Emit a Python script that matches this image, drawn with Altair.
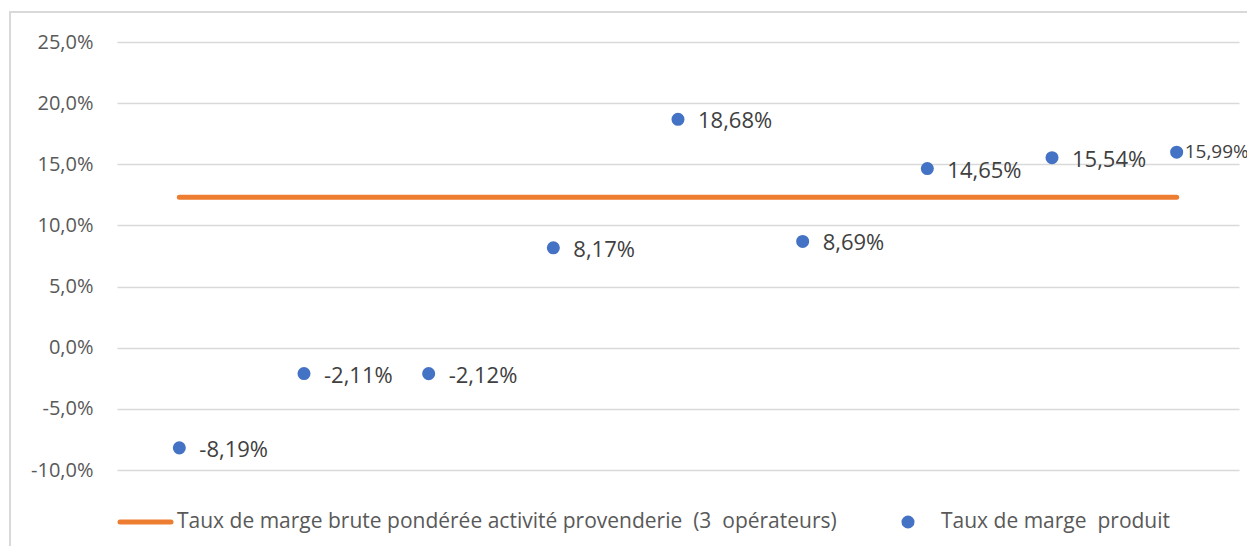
import altair as alt
import pandas as pd

# ---- data ----
produits = ["P1", "P2", "P3", "P4", "P5", "P6", "P7", "P8", "P9"]
taux_produit = [-8.19, -2.11, -2.12, 8.17, 18.68, 8.69, 14.65, 15.54, 15.99]
taux_pondere = 12.3
y_ticks = [-10, -5, 0, 5, 10, 15, 20, 25]
legend_line_label = "Taux de marge brute pondérée activité provenderie \u00a0(3 \u00a0opérateurs)"
legend_point_label = "Taux de marge \u00a0produit"

FONT = "Open Sans"
ORANGE = "#ED7D31"
BLUE = "#4472C4"
GRID = "#d9d9d9"
TXT = "#595959"

df = pd.DataFrame({"produit": produits, "taux": taux_produit})
df_line = pd.DataFrame({"debut": [produits[0]], "fin": [produits[-1]], "taux": [taux_pondere]})
one = alt.Data(values=[{"k": 1}])

xscale = alt.Scale(type="point", padding=0.5, domain=produits)
yscale = alt.Scale(domain=[-10, 25], nice=False, zero=False)

label_expr = "replace(replace(format(datum.value, '.1f'), '.', ','), '\u2212', '-') + '%'"

yaxis = alt.Axis(
    values=y_ticks, labelExpr=label_expr, grid=True, gridColor=GRID, gridWidth=1.5,
    domain=False, ticks=False, labelPadding=24, labelFontSize=20, labelColor=TXT,
    labelFont=FONT, title=None,
)

border = alt.Chart(one).mark_rect(filled=False, stroke=GRID, strokeWidth=2).encode(
    x=alt.value(-107), x2=alt.value(1300), y=alt.value(-30), y2=alt.value(600)
)

line = alt.Chart(df_line).mark_rule(color=ORANGE, strokeWidth=5, strokeCap="round").encode(
    x=alt.X("debut:N", scale=xscale, axis=None),
    x2="fin:N",
    y=alt.Y("taux:Q", scale=yscale, axis=yaxis),
)

points = alt.Chart(df).mark_circle(size=170, color=BLUE, opacity=1).encode(
    x=alt.X("produit:N", scale=xscale, axis=None),
    y=alt.Y("taux:Q", scale=yscale, axis=yaxis),
)

lab_expr = "replace(replace(format(datum.taux, '.2f'), '.', ','), '\u2212', '-') + '%'"
labels_main = alt.Chart(df).transform_filter(
    alt.datum.produit != produits[-1]
).transform_calculate(lab=lab_expr).mark_text(
    align="left", baseline="middle", dx=20, dy=2, fontSize=22, font=FONT, color="#404040"
).encode(
    x=alt.X("produit:N", scale=xscale, axis=None),
    y=alt.Y("taux:Q", scale=yscale),
    text="lab:N",
)
labels_last = alt.Chart(df).transform_filter(
    alt.datum.produit == produits[-1]
).transform_calculate(lab=lab_expr).mark_text(
    align="left", baseline="middle", dx=8, dy=0, fontSize=19, font=FONT, color="#404040"
).encode(
    x=alt.X("produit:N", scale=xscale, axis=None),
    y=alt.Y("taux:Q", scale=yscale),
    text="lab:N",
)

leg_line = alt.Chart(one).mark_rule(color=ORANGE, strokeWidth=5, strokeCap="round").encode(
    x=alt.value(3), x2=alt.value(54), y=alt.value(480)
)
leg_line_txt = alt.Chart(one).mark_text(
    align="left", baseline="middle", fontSize=21, font=FONT, color=TXT
).encode(x=alt.value(60), y=alt.value(480), text=alt.value(legend_line_label))
leg_pt = alt.Chart(one).mark_circle(size=170, color=BLUE, opacity=1).encode(
    x=alt.value(791), y=alt.value(480)
)
leg_pt_txt = alt.Chart(one).mark_text(
    align="left", baseline="middle", fontSize=21, font=FONT, color=TXT
).encode(x=alt.value(824), y=alt.value(480), text=alt.value(legend_point_label))

chart = alt.layer(
    border, line, points, labels_main, labels_last, leg_line, leg_line_txt, leg_pt, leg_pt_txt
).properties(
    width=1122, height=428,
    autosize=alt.AutoSizeParams(type="none"),
    padding={"left": 109, "top": 34, "right": 8, "bottom": 76},
    background="white",
).configure_view(stroke=None)

chart.save("out.html", embed_options={"renderer": "svg", "actions": False})
